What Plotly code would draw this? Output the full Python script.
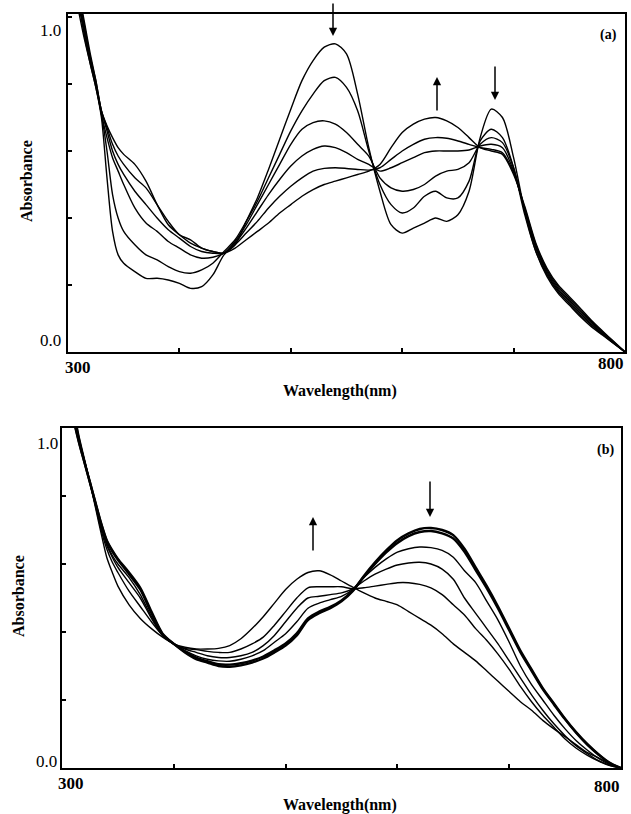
import plotly.graph_objects as go

# ---------------- data ----------------
WL = [300, 305, 310, 315, 320, 325, 330, 335, 340, 345, 350,
      360, 370, 380, 390, 400, 410, 420, 430, 440, 450,
      460, 470, 480, 490, 500, 510, 520, 530, 540, 550,
      560, 570, 580, 590, 600, 610, 620, 630, 640, 650,
      660, 670, 680, 690, 700, 710, 720, 730, 740, 750,
      760, 770, 780, 790, 800]

# Panel (a)
A1 = [1.20, 1.10, 1.01, 0.93, 0.86, 0.79, 0.70, 0.52, 0.36, 0.29, 0.265,
      0.24, 0.22, 0.22, 0.215, 0.205, 0.19, 0.195, 0.23, 0.29, 0.32,
      0.39, 0.46, 0.545, 0.635, 0.725, 0.81, 0.87, 0.91, 0.92, 0.89,
      0.77, 0.61, 0.48, 0.38, 0.355, 0.37, 0.385, 0.40, 0.39, 0.41,
      0.48, 0.64, 0.725, 0.70, 0.58, 0.42, 0.30, 0.225, 0.175, 0.14,
      0.105, 0.075, 0.05, 0.025, 0.0]
A2 = [1.22, 1.12, 1.03, 0.94, 0.86, 0.79, 0.71, 0.60, 0.47, 0.40, 0.36,
      0.32, 0.29, 0.275, 0.255, 0.24, 0.235, 0.245, 0.265, 0.30, 0.335,
      0.39, 0.45, 0.52, 0.59, 0.66, 0.72, 0.77, 0.81, 0.82, 0.79,
      0.72, 0.60, 0.50, 0.44, 0.415, 0.43, 0.465, 0.48, 0.46, 0.46,
      0.51, 0.63, 0.665, 0.64, 0.55, 0.41, 0.30, 0.23, 0.18, 0.145,
      0.11, 0.08, 0.052, 0.026, 0.0]
A3 = [1.24, 1.13, 1.04, 0.95, 0.87, 0.80, 0.71, 0.64, 0.58, 0.54, 0.50,
      0.43, 0.385, 0.36, 0.33, 0.31, 0.29, 0.28, 0.283, 0.295, 0.33,
      0.38, 0.44, 0.50, 0.56, 0.62, 0.665, 0.685, 0.69, 0.68, 0.655,
      0.62, 0.585, 0.52, 0.49, 0.48, 0.485, 0.50, 0.525, 0.54, 0.545,
      0.565, 0.62, 0.64, 0.625, 0.55, 0.42, 0.31, 0.235, 0.185, 0.15,
      0.115, 0.083, 0.054, 0.027, 0.0]
A4 = [1.26, 1.14, 1.05, 0.96, 0.88, 0.80, 0.72, 0.66, 0.60, 0.56, 0.53,
      0.48, 0.44, 0.40, 0.365, 0.34, 0.315, 0.30, 0.295, 0.295, 0.325,
      0.37, 0.42, 0.47, 0.515, 0.555, 0.585, 0.605, 0.615, 0.61, 0.595,
      0.575, 0.56, 0.54, 0.55, 0.565, 0.58, 0.595, 0.60, 0.60, 0.60,
      0.603, 0.615, 0.62, 0.61, 0.54, 0.425, 0.315, 0.24, 0.19, 0.155,
      0.12, 0.087, 0.057, 0.028, 0.0]
A5 = [1.28, 1.15, 1.06, 0.97, 0.88, 0.81, 0.72, 0.67, 0.62, 0.585, 0.56,
      0.52, 0.49, 0.44, 0.39, 0.35, 0.335, 0.31, 0.30, 0.295, 0.32,
      0.355, 0.39, 0.43, 0.465, 0.495, 0.52, 0.54, 0.548, 0.55, 0.548,
      0.545, 0.543, 0.55, 0.575, 0.60, 0.62, 0.635, 0.64, 0.638, 0.63,
      0.62, 0.61, 0.605, 0.595, 0.535, 0.43, 0.32, 0.245, 0.195, 0.16,
      0.125, 0.09, 0.06, 0.03, 0.0]
A6 = [1.30, 1.17, 1.07, 0.98, 0.89, 0.81, 0.72, 0.675, 0.64, 0.61, 0.59,
      0.56, 0.51, 0.44, 0.38, 0.35, 0.325, 0.31, 0.30, 0.295, 0.31,
      0.335, 0.36, 0.385, 0.415, 0.44, 0.465, 0.485, 0.50, 0.51, 0.52,
      0.53, 0.54, 0.56, 0.61, 0.655, 0.68, 0.695, 0.70, 0.69, 0.67,
      0.64, 0.61, 0.60, 0.59, 0.53, 0.435, 0.325, 0.25, 0.20, 0.165,
      0.13, 0.094, 0.062, 0.031, 0.0]

# Panel (b)
B1 = [1.25, 1.12, 1.03, 0.96, 0.90, 0.84, 0.78, 0.72, 0.67, 0.64, 0.615,
      0.575, 0.53, 0.46, 0.395, 0.365, 0.34, 0.32, 0.31, 0.30, 0.298,
      0.302, 0.31, 0.322, 0.34, 0.36, 0.39, 0.435, 0.455, 0.47, 0.49,
      0.52, 0.565, 0.605, 0.64, 0.67, 0.69, 0.703, 0.706, 0.70, 0.685,
      0.645, 0.59, 0.535, 0.475, 0.41, 0.345, 0.29, 0.235, 0.19, 0.145,
      0.105, 0.07, 0.04, 0.015, 0.0]
B2 = [1.26, 1.13, 1.035, 0.962, 0.90, 0.84, 0.778, 0.718, 0.668, 0.637, 0.612,
      0.57, 0.525, 0.455, 0.393, 0.365, 0.342, 0.325, 0.314, 0.305, 0.304,
      0.308, 0.316, 0.328, 0.346, 0.366, 0.396, 0.44, 0.46, 0.474, 0.493,
      0.522, 0.562, 0.6, 0.634, 0.662, 0.682, 0.694, 0.697, 0.69, 0.675,
      0.636, 0.582, 0.528, 0.469, 0.405, 0.341, 0.286, 0.232, 0.187, 0.143,
      0.103, 0.068, 0.039, 0.014, 0.0]
B3 = [1.27, 1.14, 1.04, 0.965, 0.90, 0.84, 0.78, 0.715, 0.66, 0.625, 0.60,
      0.56, 0.51, 0.445, 0.39, 0.365, 0.345, 0.33, 0.32, 0.315, 0.314,
      0.32, 0.33, 0.345, 0.37, 0.395, 0.43, 0.47, 0.485, 0.495, 0.505,
      0.525, 0.56, 0.59, 0.615, 0.635, 0.645, 0.65, 0.648, 0.64, 0.62,
      0.58, 0.545, 0.49, 0.435, 0.37, 0.30, 0.245, 0.20, 0.155, 0.115,
      0.08, 0.052, 0.028, 0.01, 0.0]
B4 = [1.28, 1.15, 1.05, 0.97, 0.905, 0.84, 0.775, 0.71, 0.655, 0.62, 0.59,
      0.545, 0.50, 0.44, 0.39, 0.365, 0.35, 0.34, 0.33, 0.325, 0.325,
      0.33, 0.34, 0.36, 0.39, 0.43, 0.47, 0.50, 0.505, 0.51, 0.515,
      0.527, 0.55, 0.57, 0.585, 0.597, 0.603, 0.605, 0.60, 0.585, 0.555,
      0.50, 0.455, 0.41, 0.365, 0.315, 0.265, 0.215, 0.17, 0.13, 0.095,
      0.065, 0.042, 0.022, 0.008, 0.0]
B5 = [1.29, 1.16, 1.06, 0.975, 0.905, 0.84, 0.77, 0.70, 0.645, 0.605, 0.575,
      0.52, 0.475, 0.43, 0.39, 0.365, 0.352, 0.348, 0.343, 0.34, 0.34,
      0.35, 0.365, 0.385, 0.42, 0.46, 0.50, 0.53, 0.533, 0.533, 0.533,
      0.527, 0.53, 0.535, 0.54, 0.545, 0.545, 0.54, 0.53, 0.51, 0.48,
      0.45, 0.41, 0.375, 0.335, 0.29, 0.24, 0.195, 0.155, 0.12, 0.085,
      0.058, 0.037, 0.02, 0.007, 0.0]
B6 = [1.30, 1.17, 1.07, 0.98, 0.91, 0.84, 0.765, 0.69, 0.62, 0.575, 0.535,
      0.48, 0.44, 0.41, 0.385, 0.365, 0.355, 0.35, 0.35, 0.352, 0.36,
      0.38, 0.41, 0.445, 0.485, 0.525, 0.555, 0.575, 0.58, 0.568, 0.55,
      0.532, 0.515, 0.50, 0.49, 0.48, 0.46, 0.44, 0.42, 0.395, 0.365,
      0.34, 0.315, 0.285, 0.255, 0.225, 0.195, 0.17, 0.14, 0.115, 0.092,
      0.068, 0.045, 0.03, 0.013, 0.0]

SERIES_A = [A1, A2, A3, A4, A5, A6]
SERIES_B = [B1, B2, B3, B4, B5, B6]

X_TICKS = [300, 400, 500, 600, 700, 800]
Y_TICKS = [0.0, 0.2, 0.4, 0.6, 0.8, 1.0]
X_TICK_LABELS = ["300", "800"]
Y_TICK_LABELS = ["0.0", "1.0"]
X_TITLE = "Wavelength(nm)"
Y_TITLE = "Absorbance"
PANEL_LABELS = ["(a)", "(b)"]

# ---------------- figure ----------------
W, H = 631, 814
FONT = "Liberation Serif"


def px(x):
    return x / W


def py(y):
    return 1 - y / H


fig = go.Figure()

for i, s in enumerate(SERIES_A):
    fig.add_trace(go.Scatter(x=WL, y=s, mode="lines", xaxis="x", yaxis="y",
                             line=dict(color="black", width=1.4, shape="spline", smoothing=0.8),
                             showlegend=False, hoverinfo="skip"))
for i, s in enumerate(SERIES_B):
    fig.add_trace(go.Scatter(x=WL, y=s, mode="lines", xaxis="x2", yaxis="y2",
                             line=dict(color="black", width=2.4 if i < 2 else 1.4,
                                       shape="spline", smoothing=0.8),
                             showlegend=False, hoverinfo="skip"))

axis_common = dict(showgrid=False, zeroline=False, showline=True, linecolor="black",
                   linewidth=1.5, mirror=True, ticks="inside", ticklen=4, tickwidth=1.5,
                   tickcolor="black", showticklabels=False)

fig.update_layout(
    width=W, height=H, margin=dict(l=0, r=0, t=0, b=0),
    paper_bgcolor="white", plot_bgcolor="white",
    font=dict(family=FONT, color="black"),
    xaxis=dict(domain=[px(68), px(625)], range=[300, 800], tickvals=X_TICKS,
               anchor="y", **axis_common),
    yaxis=dict(domain=[py(352), py(14)], range=[0, 1.009], tickvals=Y_TICKS,
               anchor="x", **axis_common),
    xaxis2=dict(domain=[px(62), px(621)], range=[300, 800], tickvals=X_TICKS,
                anchor="y2", **axis_common),
    yaxis2=dict(domain=[py(768), py(428)], range=[0, 1.0], tickvals=Y_TICKS,
                anchor="x2", **axis_common),
)

ann = []


def text(t, x, y, size, bold=False, xanchor="center", angle=0):
    ann.append(dict(text=f"<b>{t}</b>" if bold else t, x=px(x), y=py(y),
                    xref="paper", yref="paper", showarrow=False,
                    xanchor=xanchor, yanchor="middle", textangle=angle,
                    font=dict(family=FONT, size=size, color="black")))


def arrow(x, y_tip, y_tail):
    ann.append(dict(x=px(x), y=py(y_tip), xref="paper", yref="paper",
                    ax=0, ay=y_tail - y_tip, axref="pixel", ayref="pixel",
                    showarrow=True, arrowhead=2, arrowsize=1.1, arrowwidth=1.5,
                    arrowcolor="black", text=""))


# panel (a)
text(Y_TICK_LABELS[1], 63, 31, 17, xanchor="right")
text(Y_TICK_LABELS[0], 63, 341, 17, xanchor="right")
text(X_TICK_LABELS[0], 78, 368, 17, bold=True)
text(X_TICK_LABELS[1], 611, 363, 17, bold=True)
text(X_TITLE, 340, 391, 16, bold=True)
text(Y_TITLE, 27, 181, 16, bold=True, angle=-90)
text(PANEL_LABELS[0], 608, 35, 14, bold=True)
arrow(333, 36, 2)
arrow(437, 77, 112)
arrow(495, 100, 65)

# panel (b)
text(Y_TICK_LABELS[1], 60, 443, 17, xanchor="right")
text(Y_TICK_LABELS[0], 59, 761, 17, xanchor="right")
text(X_TICK_LABELS[0], 71, 783, 17, bold=True)
text(X_TICK_LABELS[1], 607, 786, 17, bold=True)
text(X_TITLE, 340, 805, 16, bold=True)
text(Y_TITLE, 18, 596, 16, bold=True, angle=-90)
text(PANEL_LABELS[1], 605, 450, 14, bold=True)
arrow(313, 517, 552)
arrow(430, 517, 480)

fig.update_layout(annotations=ann)

fig.write_html("out.html", config={"displayModeBar": False},
               post_script="document.body.style.margin='0';document.body.style.overflow='hidden';")
